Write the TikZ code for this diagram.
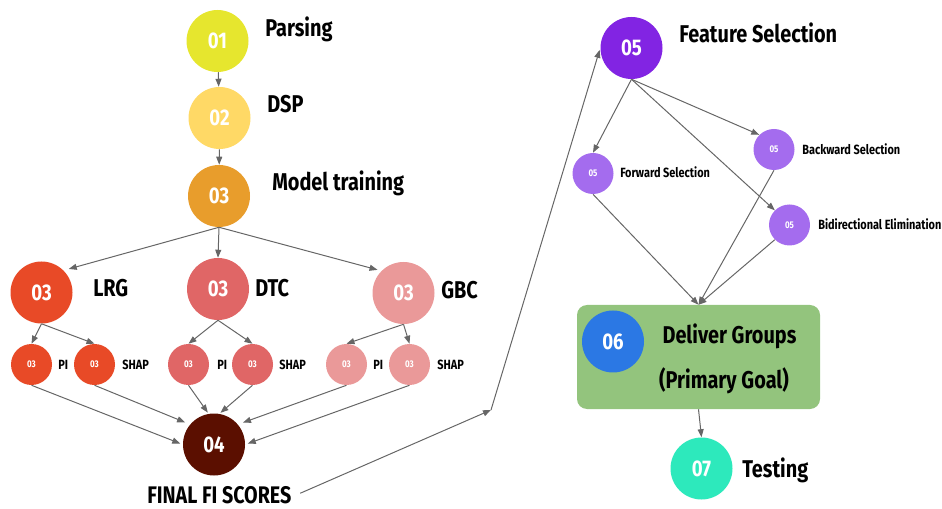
\documentclass[tikz,border=0pt]{standalone}
\usepackage{fontspec}
\setmainfont{Fira Sans}[FakeStretch=0.82]
\usetikzlibrary{arrows.meta}
\definecolor{cParse}{HTML}{E6E62E}
\definecolor{cDsp}{HTML}{FFD966}
\definecolor{cTrain}{HTML}{E89D2C}
\definecolor{cLrg}{HTML}{E84A27}
\definecolor{cDtc}{HTML}{E06666}
\definecolor{cGbc}{HTML}{EA9999}
\definecolor{cFinal}{HTML}{5B0F00}
\definecolor{cFeat}{HTML}{8224E3}
\definecolor{cFeatS}{HTML}{A46CEE}
\definecolor{cBox}{HTML}{93C47D}
\definecolor{cDeliv}{HTML}{2B78E4}
\definecolor{cTest}{HTML}{2DE9BC}
\definecolor{cLine}{HTML}{666666}
\tikzset{
  big/.style={circle, minimum size=46.5pt, inner sep=0pt, text=white, font=\bfseries\fontsize{17}{19}\selectfont},
  small/.style={circle, minimum size=30.75pt, inner sep=0pt, text=white, font=\bfseries\fontsize{7.3}{8}\selectfont},
  biglabel/.style={anchor=base west, inner sep=0pt, font=\bfseries\fontsize{18.2}{20}\selectfont},
  sublabel/.style={anchor=base west, inner sep=0pt, font=\bfseries\fontsize{10}{12}\selectfont},
  conn/.style={draw=cLine, line width=0.75pt, -{Triangle[length=6pt,width=4.5pt]}},
}
\begin{document}
\begin{tikzpicture}[x=0.75pt, y=-0.75pt]
\useasboundingbox (0,0) rectangle (942,509);
% left column
\node[big, fill=cParse] (n01) at (217.5,41) {01};
\node[big, fill=cDsp] (n02) at (219.5,118) {02};
\node[big, fill=cTrain] (n03) at (219,196) {03};
\node[biglabel] (l01) at (265,37) {Parsing};
\node[biglabel] (l02) at (267,113) {DSP};
\node[biglabel] (l03) at (272,191) {Model training};
% models
\node[big, fill=cLrg] (lrg) at (41.5,292.5) {03};
\node[big, fill=cDtc] (dtc) at (218,289) {03};
\node[big, fill=cGbc] (gbc) at (403.5,293) {03};
\node[biglabel] (llrg) at (93,297) {LRG};
\node[biglabel] (ldtc) at (255,297) {DTC};
\node[biglabel] (lgbc) at (441,299) {GBC};
% small
\node[small, fill=cLrg] (lrgpi) at (31.5,364.5) {03};
\node[small, fill=cLrg] (lrgsh) at (94.5,364.5) {03};
\node[small, fill=cDtc] (dtcpi) at (188.5,364.5) {03};
\node[small, fill=cDtc] (dtcsh) at (252.5,364.5) {03};
\node[small, fill=cGbc] (gbcpi) at (346.5,364.5) {03};
\node[small, fill=cGbc] (gbcsh) at (409.5,364.5) {03};
\node[sublabel] (t1) at (58,370) {PI};
\node[sublabel] (t2) at (122,370) {SHAP};
\node[sublabel] (t3) at (217,370) {PI};
\node[sublabel] (t4) at (279,370) {SHAP};
\node[sublabel] (t5) at (373,370) {PI};
\node[sublabel] (t6) at (437,370) {SHAP};
% final
\node[big, fill=cFinal] (n04) at (214,444.5) {04};
\node[anchor=base west, inner sep=0pt, font=\bfseries\fontsize{18}{20}\selectfont] (lfin) at (147,503.5) {FINAL FI SCORES};
\coordinate (j) at (491,410);
% feature selection
\node[big, fill=cFeat] (n05) at (631.5,48) {05};
\node[biglabel] (l05) at (679,43) {Feature Selection};
\node[small, fill=cFeatS] (fwd) at (593,173.5) {05};
\node[small, fill=cFeatS] (bwd) at (774,149.5) {05};
\node[small, fill=cFeatS] (bid) at (789.5,225) {05};
\node[sublabel] (lfwd) at (620,178) {Forward Selection};
\node[sublabel] (lbwd) at (802,155) {Backward Selection};
\node[sublabel] (lbid) at (818,230) {Bidirectional Elimination};
% deliver box
\node[draw=none, fill=cBox, rounded corners=7.5pt, minimum width=182.25pt, minimum height=78pt, inner sep=0pt] (box) at (698.5,357) {};
\node[big, fill=cDeliv] (n06) at (613,341.5) {06};
\node[anchor=base, inner sep=0pt, font=\bfseries\fontsize{18.2}{20}\selectfont] (ld1) at (729.5,344) {Deliver Groups};
\node[anchor=base, inner sep=0pt, font=\bfseries\fontsize{18.2}{20}\selectfont] (ld2) at (724,388) {(Primary Goal)};
\node[big, fill=cTest] (n07) at (701.5,468.5) {07};
\node[biglabel] (l07) at (742,477) {Testing};
% connectors
\draw[conn] (n01) -- (n02);
\draw[conn] (n02) -- (n03);
\draw[conn, shorten >=4pt] (n03.south) -- (lrg.45);
\draw[conn] (n03.south) -- (dtc.north);
\draw[conn, shorten >=3pt] (n03.south) -- (gbc.135);
\draw[conn] (lrg.south) -- (lrgpi.north);
\draw[conn] (lrg.south) -- (lrgsh.north);
\draw[conn] (dtc.south) -- (dtcpi.north);
\draw[conn] (dtc.south) -- (dtcsh.north);
\draw[conn] (gbc.south) -- (gbcpi.north);
\draw[conn] (gbc.south) -- (gbcsh.north);
\draw[conn, shorten >=2pt] (lrgpi.south) -- (n04.west);
\draw[conn, shorten >=4pt] (lrgsh.south) -- (n04.140);
\draw[conn, shorten >=1pt] (dtcpi.south) -- (n04.100);
\draw[conn, shorten >=1pt] (dtcsh.south) -- (n04.80);
\draw[conn, shorten >=4pt] (gbcpi.south) -- (n04.40);
\draw[conn, shorten >=2pt] (gbcsh.south) -- (n04.east);
\draw[conn, shorten <=7pt] (lfin.east |- 0,497) -- (j);
\draw[conn, shorten >=1.5pt] (j) -- (n05.west);
\draw[conn] (n05.south) -- (fwd.north);
\draw[conn] (n05.south) -- (bwd.135);
\draw[conn] (n05.south) -- (bid.135);
\draw[conn] (fwd.south) -- (box.north);
\draw[conn] (bwd.south) -- (box.north);
\draw[conn] (bid.225) -- (box.north);
\draw[conn] (box.south) -- (n07.north);
\end{tikzpicture}
\end{document}
